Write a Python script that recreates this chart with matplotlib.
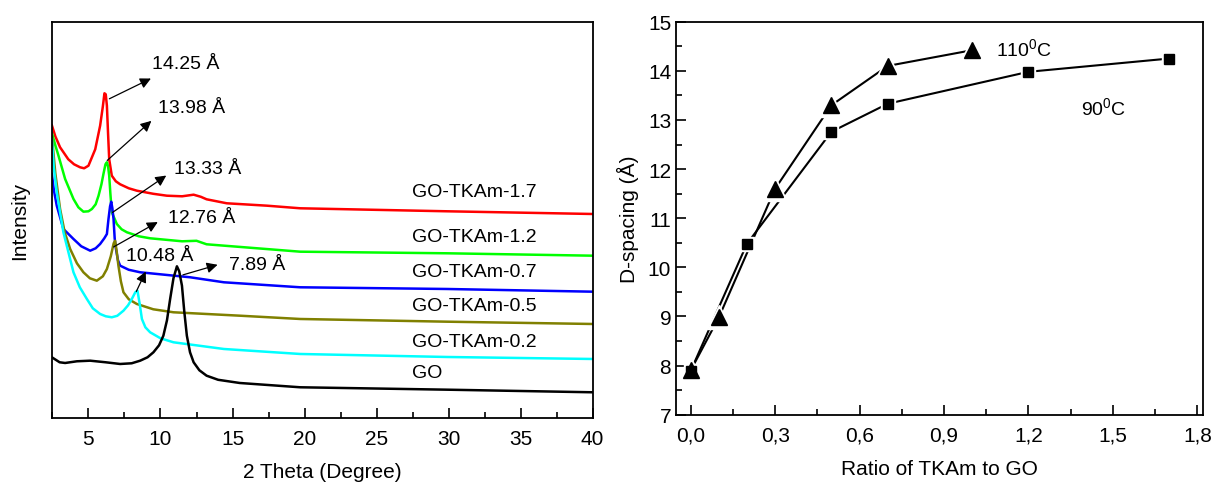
import matplotlib.pyplot as plt
from matplotlib.ticker import MultipleLocator, FuncFormatter

plt.rcParams['font.family'] = ['Liberation Sans', 'DejaVu Sans']
plt.rcParams['mathtext.fontset'] = 'custom'
plt.rcParams['mathtext.rm'] = 'Liberation Sans'
plt.rcParams['mathtext.it'] = 'Liberation Sans'

# XRD patterns (2 theta in degree, intensity in arbitrary units)
tt_17 = [2.46, 2.7, 3.03, 3.6, 4.0, 4.42, 4.7, 5.0, 5.47, 5.81, 6.0, 6.11, 6.2, 6.28, 6.36, 6.44, 6.62, 6.9, 7.2, 7.8, 8.36,
         9.5, 10.44, 11.5, 12.3, 12.8, 13.2, 14.6, 17.4, 19.7, 29.9, 40.0]
i_17 = [293, 282, 271, 259, 254, 251, 250, 252.6, 269, 292.6, 312, 325, 324, 312.6, 285, 259, 242.6, 237, 234, 230, 227.6,
        224.5, 222.6, 222, 223.6, 221.5, 219, 215, 212.6, 210, 207, 204.3]

tt_12 = [2.46, 2.7, 2.92, 3.38, 3.96, 4.3, 4.65, 5.0, 5.24, 5.5, 5.7, 5.9, 6.04, 6.18, 6.28, 6.36, 6.44, 6.52, 6.62, 6.97,
         7.3, 7.67, 8.5, 9.28, 11.5, 12.5, 13.2, 19.7, 29.9, 40.0]
i_12 = [285.3, 273, 262.6, 239.3, 219.3, 211, 206.6, 207, 209.3, 214, 222.6, 234, 244.3, 254, 256, 252, 242.6, 225, 206, 194.3,
        189, 186, 182, 180, 177, 177.5, 174, 166.6, 165, 162.6]

tt_07 = [2.46, 2.6, 2.8, 3.26, 3.96, 4.5, 5.12, 5.5, 5.81, 6.1, 6.28, 6.39, 6.5, 6.58, 6.66, 6.74, 6.82, 6.9, 7.05, 7.2,
         7.8, 8.59, 12.06, 14.4, 19.7, 29.9, 40.0]
i_07 = [244.3, 228, 212.6, 189.3, 179.3, 172, 167.6, 170, 174.3, 180, 184.3, 199.3, 212, 216.6, 210, 199.3, 180, 170, 158, 152.6,
        148.5, 146, 141, 136, 131, 129.3, 126.6]

tt_05 = [2.46, 2.7, 3.03, 3.35, 3.73, 4.2, 4.65, 5.1, 5.58, 6.0, 6.28, 6.55, 6.75, 6.85, 6.95, 7.08, 7.25, 7.43, 7.8, 8.36,
         9.5, 10.9, 15.5, 19.7, 29.9, 40.0]
i_05 = [282.6, 245, 209.3, 186, 169.3, 155, 146, 140, 137.6, 142, 149.3, 162, 175, 177.6, 168, 152.6, 137, 126, 119, 114.3,
        109, 106, 102.6, 99.3, 96.6, 94.3]

tt_02 = [2.46, 2.6, 2.8, 3.26, 3.96, 4.4, 4.89, 5.3, 5.81, 6.2, 6.62, 7.0, 7.43, 7.75, 8.01, 8.25, 8.4, 8.55, 8.71, 8.95,
         9.28, 10.0, 10.9, 14.4, 19.7, 29.9, 40.0]
i_02 = [279, 250, 226, 186, 146, 131, 119.3, 110, 104.3, 102, 101, 102.5, 107.6, 113, 119.3, 126, 127.6, 115, 99.3, 91,
        86, 80, 76, 69.3, 64.3, 61.3, 59.3]

tt_go = [2.46, 3.0, 3.38, 4.2, 5.12, 6.2, 7.2, 8.0, 8.59, 9.1, 9.51, 9.9, 10.2, 10.45, 10.67, 10.9, 11.14, 11.3, 11.49, 11.65,
         11.83, 12.05, 12.3, 12.7, 13.2, 14.0, 15.5, 19.7, 29.9, 40.0]
i_go = [61, 56, 55.3, 57, 57.6, 56, 54.3, 55, 57.6, 61, 66, 73, 82.6, 98, 119.3, 140, 152, 147, 132.6, 107,
        82.6, 66, 56, 48, 42.6, 38.5, 35.3, 31, 28.6, 26]

sample_names = ['GO-TKAm-1.7', 'GO-TKAm-1.2', 'GO-TKAm-0.7', 'GO-TKAm-0.5', 'GO-TKAm-0.2', 'GO']
sample_colors = ['#ff0000', '#00ff00', '#0000ff', '#808000', '#00ffff', '#000000']
name_y = [226.6, 182, 146.6, 112.6, 77, 46]

# peak labels: text, peak point, arrow head, text centre
peak_text = ['14.25 Å', '13.98 Å', '13.33 Å', '12.76 Å', '10.48 Å', '7.89 Å']
peak_from = [(6.28, 318.3), (6.16, 256), (6.51, 204.3), (6.58, 170), (8.24, 124.3), (11.37, 142.6)]
peak_to = [(9.51, 341), (9.51, 299.3), (10.56, 244.3), (9.98, 197.6), (9.06, 149.3), (14.15, 154.3)]
peak_txt_pos = [(11.78, 354.3), (12.18, 310.3), (13.28, 249.3), (12.88, 200.3), (9.93, 162.6), (16.7, 153.5)]

# d-spacing vs ratio
ratio_90 = [0.0, 0.2, 0.5, 0.7, 1.2, 1.7]
d_90 = [7.89, 10.48, 12.76, 13.33, 13.98, 14.25]
ratio_110 = [0.0, 0.1, 0.3, 0.5, 0.7, 1.0]
d_110 = [7.9, 8.98, 11.6, 13.3, 14.1, 14.42]

fig = plt.figure(figsize=(12.17, 4.85), dpi=100)
ax1 = fig.add_axes([0.0425, 0.1355, 0.4445, 0.8177])
ax2 = fig.add_axes([0.5555, 0.1429, 0.433, 0.8103])

fs = 14
tfs = 15

# left panel
curves = [(tt_17, i_17), (tt_12, i_12), (tt_07, i_07), (tt_05, i_05), (tt_02, i_02), (tt_go, i_go)]
for (x, y), c in zip(curves, sample_colors):
    ax1.plot(x, y, color=c, lw=1.8, solid_joinstyle='round')
for name, y in zip(sample_names, name_y):
    ax1.text(27.46, y, name, fontsize=fs, va='center', ha='left')
for t, p0, p1, pt in zip(peak_text, peak_from, peak_to, peak_txt_pos):
    ax1.annotate('', xy=p1, xytext=p0,
                 arrowprops=dict(arrowstyle='-|>', color='black', lw=0.9, mutation_scale=16))
    ax1.text(pt[0], pt[1], t, fontsize=fs, ha='center', va='center')

ax1.set_xlim(2.45, 40)
ax1.set_ylim(0, 396.6)
ax1.xaxis.set_major_locator(MultipleLocator(5))
ax1.xaxis.set_minor_locator(MultipleLocator(2.5))
ax1.set_yticks([])
ax1.tick_params(axis='x', which='both', direction='in', labelsize=tfs, top=False, pad=8)
ax1.tick_params(axis='x', which='major', length=7, width=1.2)
ax1.tick_params(axis='x', which='minor', length=4, width=1.2)
ax1.set_xlabel('2 Theta (Degree)', fontsize=tfs, labelpad=10)
ax1.set_ylabel('Intensity', fontsize=tfs, labelpad=16)
for s in ax1.spines.values():
    s.set_linewidth(1.3)

# right panel
ax2.plot(ratio_90, d_90, color='black', lw=1.5, zorder=2)
ax2.plot(ratio_110, d_110, color='black', lw=1.5, zorder=2)
ax2.plot(ratio_90, d_90, ls='none', marker='s', ms=10, color='white', zorder=3)
ax2.plot(ratio_110, d_110, ls='none', marker='^', ms=17, color='white', zorder=3)
ax2.plot(ratio_90, d_90, ls='none', marker='s', ms=6.5, color='black', zorder=4)
ax2.plot(ratio_110, d_110, ls='none', marker='^', ms=12, color='black', zorder=4)
ax2.text(1.086, 14.47, '110$^{0}$C', fontsize=fs, ha='left', va='center')
ax2.text(1.388, 13.26, '90$^{0}$C', fontsize=fs, ha='left', va='center')

ax2.set_xlim(-0.052, 1.82)
ax2.set_ylim(7, 15)
ax2.xaxis.set_major_locator(MultipleLocator(0.3))
ax2.xaxis.set_minor_locator(MultipleLocator(0.15))
ax2.yaxis.set_major_locator(MultipleLocator(1))
ax2.yaxis.set_minor_locator(MultipleLocator(0.5))
ax2.xaxis.set_major_formatter(FuncFormatter(lambda v, p: ('%.1f' % v).replace('.', ',')))
ax2.tick_params(which='both', direction='in', labelsize=tfs, top=False, right=False)
ax2.tick_params(which='major', length=7, width=1.2)
ax2.tick_params(which='minor', length=4, width=1.2)
ax2.tick_params(axis='x', pad=8)
ax2.set_xlabel('Ratio of TKAm to GO', fontsize=tfs, labelpad=10)
ax2.set_ylabel('D-spacing (Å)', fontsize=tfs, labelpad=6)
for s in ax2.spines.values():
    s.set_linewidth(1.3)

fig.savefig('out.png', dpi=100)
